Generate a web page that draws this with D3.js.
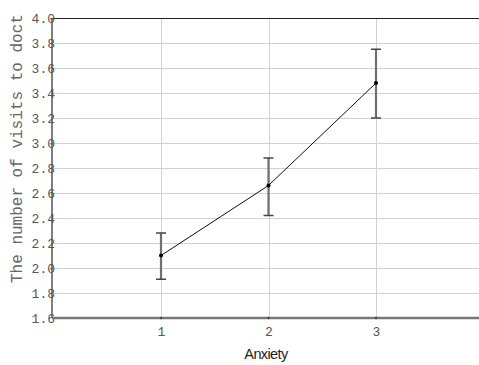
<!DOCTYPE html>
<html>
<head>
<meta charset="utf-8">
<script src="https://d3js.org/d3.v7.min.js"></script>
<style>
  body { margin: 0; background: #fff; }
  svg { display: block; }
  .tick text { font-family: 'Liberation Mono', 'Courier New', monospace; font-size: 13px; fill: #555; }
</style>
</head>
<body>
<script>
var width = 479
var height = 365

// data
var anxiety = [1, 2, 3]
var visits = [2.10, 2.66, 3.48]
var upper = [2.28, 2.88, 3.75]
var lower = [1.91, 2.42, 3.20]
var yTicks = [1.6, 1.8, 2.0, 2.2, 2.4, 2.6, 2.8, 3.0, 3.2, 3.4, 3.6, 3.8, 4.0]
var xTicks = [1, 2, 3]

var plotLeft = 52, plotTop = 18, plotBottom = 318

var x = d3.scaleLinear()
    .domain([0, 4])
    .range([53.5, 483.5])

var y = d3.scaleLinear()
    .domain([1.6, 4.0])
    .range([plotBottom, plotTop])

var svg = d3.select('body').append('svg')
    .attr('width', width)
    .attr('height', height)

// grid
svg.append('g')
    .attr('class', 'grid')
    .selectAll('line')
    .data(yTicks)
    .enter().append('line')
    .attr('x1', plotLeft)
    .attr('x2', width)
    .attr('y1', function(d) { return Math.round(y(d)) + 0.5 })
    .attr('y2', function(d) { return Math.round(y(d)) + 0.5 })
    .style('stroke', '#d2d2d2')
    .style('stroke-width', 1)

svg.append('g')
    .selectAll('line')
    .data(xTicks)
    .enter().append('line')
    .attr('x1', function(d) { return Math.round(x(d)) + 0.5 })
    .attr('x2', function(d) { return Math.round(x(d)) + 0.5 })
    .attr('y1', plotTop)
    .attr('y2', plotBottom)
    .style('stroke', '#d2d2d2')
    .style('stroke-width', 1)

// top border
svg.append('line')
    .attr('x1', plotLeft).attr('x2', width)
    .attr('y1', plotTop + 0.5).attr('y2', plotTop + 0.5)
    .style('stroke', '#222')
    .style('stroke-width', 1)

// axes
var yAxis = svg.append('g')
    .attr('transform', 'translate(' + (plotLeft + 3) + ',0)')
    .call(d3.axisLeft(y).tickValues(yTicks).tickFormat(d3.format('.1f')).tickSize(0).tickPadding(0))
yAxis.select('.domain').remove()

var xAxis = svg.append('g')
    .attr('transform', 'translate(0,' + plotBottom + ')')
    .call(d3.axisBottom(x).tickValues(xTicks).tickFormat(d3.format('d')).tickSize(0).tickPadding(9))
xAxis.select('.domain').remove()

svg.append('line')
    .attr('x1', plotLeft).attr('x2', plotLeft)
    .attr('y1', plotTop).attr('y2', plotBottom)
    .style('stroke', '#555')
    .style('stroke-width', 1.5)

svg.append('line')
    .attr('x1', plotLeft).attr('x2', width)
    .attr('y1', plotBottom).attr('y2', plotBottom)
    .style('stroke', '#777')
    .style('stroke-width', 2.5)

svg.append('g')
    .selectAll('circle')
    .data(xTicks)
    .enter().append('circle')
    .attr('cx', function(d) { return x(d) })
    .attr('cy', plotBottom)
    .attr('r', 1.2)
    .style('fill', '#444')

// labels
svg.append('text')
    .attr('transform', 'translate(22,283) rotate(-90)')
    .style('font-family', "'Liberation Mono', 'Courier New', monospace")
    .style('font-size', '16px')
    .style('fill', '#666')
    .text('The number of visits to doct')

svg.append('text')
    .attr('x', 266)
    .attr('y', 359)
    .attr('text-anchor', 'middle')
    .style('font-family', "'Liberation Sans', Arial, sans-serif")
    .style('font-size', '14.5px')
    .style('letter-spacing', '-0.6px')
    .style('fill', '#222')
    .text('Anxiety')

// error bars
var bars = svg.append('g').attr('class', 'errors')
bars.selectAll('line.v')
    .data(anxiety)
    .enter().append('line')
    .attr('class', 'v')
    .attr('x1', function(d) { return x(d) })
    .attr('x2', function(d) { return x(d) })
    .attr('y1', function(d, i) { return y(upper[i]) })
    .attr('y2', function(d, i) { return y(lower[i]) })
    .style('stroke', '#707070')
    .style('stroke-width', 2.2)

bars.selectAll('line.cap')
    .data(anxiety.concat(anxiety))
    .enter().append('line')
    .attr('class', 'cap')
    .attr('x1', function(d) { return x(d) - 5 })
    .attr('x2', function(d) { return x(d) + 5 })
    .attr('y1', function(d, i) { return i < 3 ? y(upper[i]) : y(lower[i - 3]) })
    .attr('y2', function(d, i) { return i < 3 ? y(upper[i]) : y(lower[i - 3]) })
    .style('stroke', '#444')
    .style('stroke-width', 1.5)

// mean line
var line = d3.line()
    .x(function(d) { return x(d) })
    .y(function(d, i) { return y(visits[i]) })

svg.append('path')
    .datum(anxiety)
    .attr('d', line)
    .style('fill', 'none')
    .style('stroke', '#111')
    .style('stroke-width', 1)

svg.append('g')
    .selectAll('circle')
    .data(anxiety)
    .enter().append('circle')
    .attr('cx', function(d) { return x(d) })
    .attr('cy', function(d, i) { return y(visits[i]) })
    .attr('r', 2)
    .style('fill', '#000')
</script>
</body>
</html>
